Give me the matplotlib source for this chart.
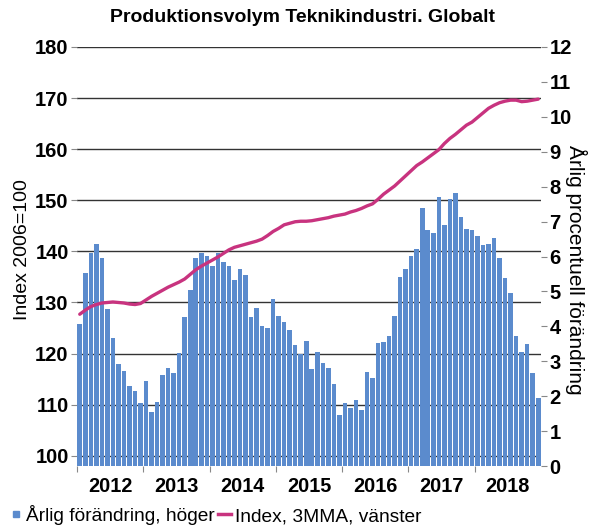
import matplotlib
matplotlib.use("Agg")
import matplotlib.pyplot as plt
from matplotlib.lines import Line2D
import numpy as np

plt.rcParams['font.family'] = ['Liberation Sans', 'DejaVu Sans']

title = "Produktionsvolym Teknikindustri. Globalt"
years = ["2012", "2013", "2014", "2015", "2016", "2017", "2018"]
bar_label = "Årlig förändring, höger"
line_label = "Index, 3MMA, vänster"
left_ylabel = "Index 2006=100"
right_ylabel = "Årlig procentuell förändring"

# Monthly yearly change (%), Jan 2012 - Dec 2018 (right axis)
yoy = [4.06, 5.52, 6.11, 6.36, 5.95, 4.50, 3.66, 2.91, 2.73, 2.29, 2.16, 1.81,
       2.44, 1.55, 1.83, 2.60, 2.81, 2.66, 3.25, 4.26, 5.04, 5.95, 6.11, 6.02,
       5.73, 6.11, 5.83, 5.73, 5.33, 5.65, 5.47, 4.28, 4.52, 4.02, 3.94, 4.78,
       4.31, 4.12, 3.89, 3.47, 3.20, 3.58, 2.79, 3.26, 2.94, 2.82, 2.34, 1.46,
       1.81, 1.65, 1.88, 1.60, 2.70, 2.52, 3.53, 3.55, 3.72, 4.29, 5.40, 5.65,
       6.02, 6.21, 7.39, 6.75, 6.68, 7.71, 6.90, 7.65, 7.82, 7.13, 6.78, 6.77,
       6.59, 6.34, 6.36, 6.52, 5.97, 5.38, 4.95, 3.73, 3.27, 3.50, 2.67, 1.94]

# Index 2006=100, 3-month moving average (left axis)
index3mma = [127.7, 128.5, 129.2, 129.6, 129.9, 130.0, 130.1, 130.0, 129.9, 129.7, 129.6, 129.8,
             130.5, 131.2, 131.8, 132.4, 133.0, 133.5, 134.0, 134.6, 135.5, 136.4, 137.1, 137.7,
             138.3, 138.9, 139.6, 140.3, 140.8, 141.1, 141.4, 141.7, 142.0, 142.4, 143.1, 143.9,
             144.5, 145.2, 145.5, 145.8, 145.9, 145.9, 146.0, 146.2, 146.4, 146.6, 146.9, 147.1,
             147.3, 147.7, 148.0, 148.4, 148.9, 149.3, 150.2, 151.2, 152.0, 152.8, 153.8, 154.8,
             155.8, 156.8, 157.5, 158.3, 159.1, 159.9, 161.1, 162.1, 162.9, 163.8, 164.7, 165.3,
             166.2, 167.1, 168.0, 168.6, 169.1, 169.4, 169.6, 169.6, 169.3, 169.4, 169.6, 169.8]

left_ticks = [100, 110, 120, 130, 140, 150, 160, 170, 180]
right_ticks = list(range(0, 13))

BAR_COLOR = "#5B8BCD"
LINE_COLOR = "#C8337F"

W, H = 601, 529
fig = plt.figure(figsize=(W / 100, H / 100), dpi=100)
L, R, T, B = 77, 541, 47, 466
rect = [L / W, 1 - B / H, (R - L) / W, (B - T) / H]

x = np.arange(len(yoy))
xlim = (-0.5, len(yoy) - 0.5)

# Base axis: left scale + gridlines
ax = fig.add_axes(rect)
ax.set_xlim(*xlim)
ax.set_ylim(98, 180)
ax.set_yticks(left_ticks)
ax.set_yticklabels([str(v) for v in left_ticks], fontsize=14.5, fontweight='bold')
ax.grid(axis='y', color='#333333', linewidth=1.0)
ax.set_axisbelow(True)
for s in ax.spines.values():
    s.set_visible(False)
ax.tick_params(axis='y', length=4, width=0.8, color='#888888', pad=2)
year_bounds = [i * 12 - 0.5 for i in range(len(years))]
year_centers = [i * 12 + 5.5 for i in range(len(years))]
ax.set_xticks(year_bounds)
ax.set_xticklabels([])
ax.set_xticks(year_centers, minor=True)
ax.set_xticklabels(years, minor=True, fontsize=14.3, fontweight='bold')
ax.tick_params(axis='x', which='major', length=4, width=0.8, color='#888888')
ax.tick_params(axis='x', which='minor', length=0, pad=8)
ax.set_ylabel(left_ylabel, fontsize=14)
ax.yaxis.set_label_coords(-0.10, 0.516)

# Bars on right scale
axb = ax.twinx()
axb.set_xlim(*xlim)
axb.bar(x, yoy, width=0.82, color=BAR_COLOR, edgecolor='none', zorder=2)
axb.set_ylim(0, 12)
axb.set_yticks(right_ticks)
axb.set_yticklabels([str(v) for v in right_ticks], fontsize=14.5, fontweight='bold')
axb.tick_params(axis='y', length=4, width=0.8, color='#888888', pad=2)
for s in axb.spines.values():
    s.set_visible(False)
axb.set_ylabel(right_ylabel, fontsize=15, rotation=270, va='center')
axb.yaxis.set_label_coords(1.075, 0.468)

# Line on top, left scale
axl = ax.twinx()
axl.set_xlim(*xlim)
axl.set_ylim(98, 180)
axl.plot(x, index3mma, color=LINE_COLOR, linewidth=2.4, solid_capstyle='round')
axl.set_yticks([])
for s in axl.spines.values():
    s.set_visible(False)
axl.patch.set_visible(False)

fig.text(302 / W, 1 - 18 / H, title, ha='center', va='center',
         fontsize=14, fontweight='bold')

handles = [Line2D([], [], marker='s', linestyle='none', markersize=5, color=BAR_COLOR),
           Line2D([], [], color=LINE_COLOR, linewidth=2.5)]
fig.legend(handles, [bar_label, line_label], loc='center left',
           bbox_to_anchor=(0.015, 1 - 515 / H), ncol=2, frameon=False,
           fontsize=13.8, handlelength=0.7, handletextpad=0.2, columnspacing=0.15,
           borderaxespad=0, borderpad=0)

fig.savefig("out.png", dpi=100)
